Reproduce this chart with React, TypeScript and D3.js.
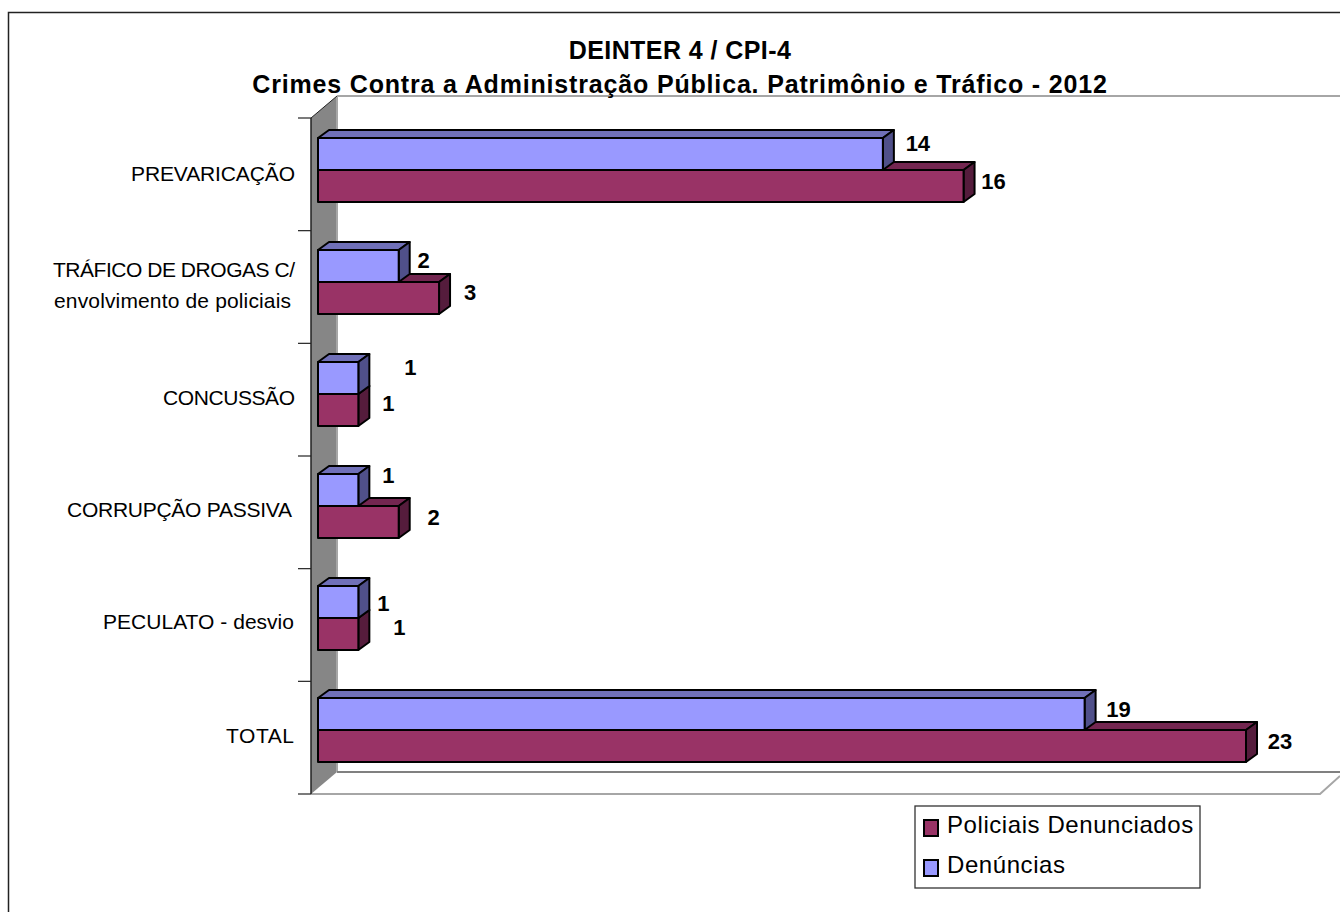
import React from "react";
import * as d3 from "d3";

const titleLines = ["DEINTER 4 / CPI-4", "Crimes Contra a Administração Pública. Patrimônio e Tráfico - 2012"];
const titleSpacing = [0.43, 0.83];
const categories = ["PREVARICAÇÃO", "TRÁFICO", "CONCUSSÃO", "CORRUPÇÃO", "PECULATO", "TOTAL"];
const categoryLabels = [
  ["PREVARICAÇÃO"],
  ["TRÁFICO DE DROGAS C/", "envolvimento de policiais"],
  ["CONCUSSÃO"],
  ["CORRUPÇÃO PASSIVA"],
  ["PECULATO - desvio"],
  ["TOTAL"],
];
// Rendered extents of the source's category labels.
const labelRight = [[295], [295, 291], [295], [292], [294], [294]];
const labelWidth = [[164], [242, 237], [132], [225], [191], [68]];
const labelShift = [[4], [-12, 19], [4], [4], [4], [6]];
const denuncias = [14, 2, 1, 1, 1, 19];
const policiais = [16, 3, 1, 2, 1, 23];
const seriesNames = ["Policiais Denunciados", "Denúncias"];
// The source's data labels were placed by hand: offset of each from its bar end.
const denunciasNudgeX = [35, 25, 52, 30, 25, 34];
const denunciasNudgeY = [-11, -6, -11, -15, 1, -5];
const policiaisNudgeX = [30, 31, 30, 35, 41, 34];
const policiaisNudgeY = [-5, -6, -7, -5, -7, -5];

const FONT = "'Liberation Sans', Arial, sans-serif";
const BLUE = { front: "#9999ff", top: "#7070b8", side: "#50508a" };
const RED = { front: "#993366", top: "#732650", side: "#551c3c" };
const DX = 11;
const DY = 8;
const WALL_DX = 26;
const WALL_DY = 22;

export default function App() {
  const plotTop = 118;
  const plotBottom = 794;
  const left = 311;
  const x = d3.scaleLinear().domain([0, 23]).range([318, 1246]);
  const y = d3.scaleBand<string>().domain(categories).range([114, 786]).paddingInner(3 / 7).paddingOuter(3 / 14);
  const tickY = d3.scaleLinear().domain([0, categories.length]).range([plotTop, plotBottom]);
  const barH = y.bandwidth() / 2;
  const ticks = tickY.ticks(categories.length);

  const bar = (v: number, top: number, c: typeof BLUE, key: string) => {
    const x0 = x(0);
    const x1 = x(v);
    return (
      <g key={key} stroke="#000" strokeWidth={2} strokeLinejoin="round">
        <path d={`M${x0},${top}L${x0 + DX},${top - DY}L${x1 + DX},${top - DY}L${x1},${top}Z`} fill={c.top} />
        <path d={`M${x1},${top}L${x1 + DX},${top - DY}L${x1 + DX},${top + barH - DY}L${x1},${top + barH}Z`} fill={c.side} />
        <rect x={x0} y={top} width={x1 - x0} height={barH} fill={c.front} />
      </g>
    );
  };

  return (
    <svg width={1340} height={912} style={{ position: "absolute", left: 0, top: 0, background: "#fff" }} fontFamily={FONT}>
      <path d="M8.5,912V12.5H1340" fill="none" stroke="#222" strokeWidth={1.5} />

      {/* walls and floor */}
      <path d={`M${left},${plotTop}L${left + WALL_DX},${plotTop - WALL_DY}V${plotBottom - WALL_DY}L${left},${plotBottom}Z`} fill="#868686" />
      <path d={`M${left + WALL_DX},${plotTop - WALL_DY}H1340`} stroke="#a6a6a6" strokeWidth={2} fill="none" />
      <path d={`M${left + WALL_DX},${plotTop - WALL_DY}V${plotBottom - WALL_DY}`} stroke="#a6a6a6" strokeWidth={2} fill="none" />
      <path d={`M${left + WALL_DX},${plotBottom - WALL_DY}H1340`} stroke="#808080" strokeWidth={2} fill="none" />
      <path d={`M${left},${plotBottom}H1320L1340,${plotBottom - 18}`} stroke="#a6a6a6" strokeWidth={2} fill="none" />

      {/* axis */}
      <path d={`M${left},${plotTop}V${plotBottom}`} stroke="#222" strokeWidth={1.5} />
      <path d={`M${left},${plotTop}L${left + WALL_DX},${plotTop - WALL_DY}`} stroke="#222" strokeWidth={1} />
      {ticks.map((t, i) => (
        <line key={i} x1={298} x2={left} y1={tickY(t)} y2={tickY(t)} stroke="#222" strokeWidth={1.2} />
      ))}

      {categories.map((c, i) => {
        const top = y(c)!;
        return (
          <g key={c}>
            {bar(policiais[i], top + barH, RED, c + "r")}
            {bar(denuncias[i], top, BLUE, c + "b")}
          </g>
        );
      })}

      <g fontSize={21} fill="#000" textAnchor="end">
        {categories.map((c, i) => {
          const mid = y(c)! + barH;
          return categoryLabels[i].map((l, j) => (
            <text key={l} x={labelRight[i][j]} y={mid + labelShift[i][j]} dy="0.35em" textLength={labelWidth[i][j]} lengthAdjust="spacing">{l}</text>
          ));
        })}
      </g>

      <g fontSize={22} fontWeight={700} fill="#000" textAnchor="middle">
        {categories.map((c, i) => (
          <g key={c}>
            <text x={x(denuncias[i]) + denunciasNudgeX[i]} y={y(c)! + barH / 2 + denunciasNudgeY[i]} dy="0.35em">{denuncias[i]}</text>
            <text x={x(policiais[i]) + policiaisNudgeX[i]} y={y(c)! + barH * 1.5 + policiaisNudgeY[i]} dy="0.35em">{policiais[i]}</text>
          </g>
        ))}
      </g>

      <g fontSize={25} fontWeight={700} fill="#000" textAnchor="middle">
        {titleLines.map((l, i) => (
          <text key={i} x={680} y={59 + i * 34} letterSpacing={titleSpacing[i]}>{l}</text>
        ))}
      </g>

      {/* legend */}
      <rect x={915} y={806} width={285} height={82} fill="#fff" stroke="#333" strokeWidth={1.3} />
      {seriesNames.map((n, i) => {
        const c = i === 0 ? RED : BLUE;
        const cy = 825 + i * 40;
        return (
          <g key={n}>
            <rect x={924} y={cy - 5} width={14} height={16} fill={c.front} stroke="#000" strokeWidth={2} />
            <text x={947} y={cy + 8} fontSize={24} fill="#000" letterSpacing={0.57}>{n}</text>
          </g>
        );
      })}
    </svg>
  );
}
